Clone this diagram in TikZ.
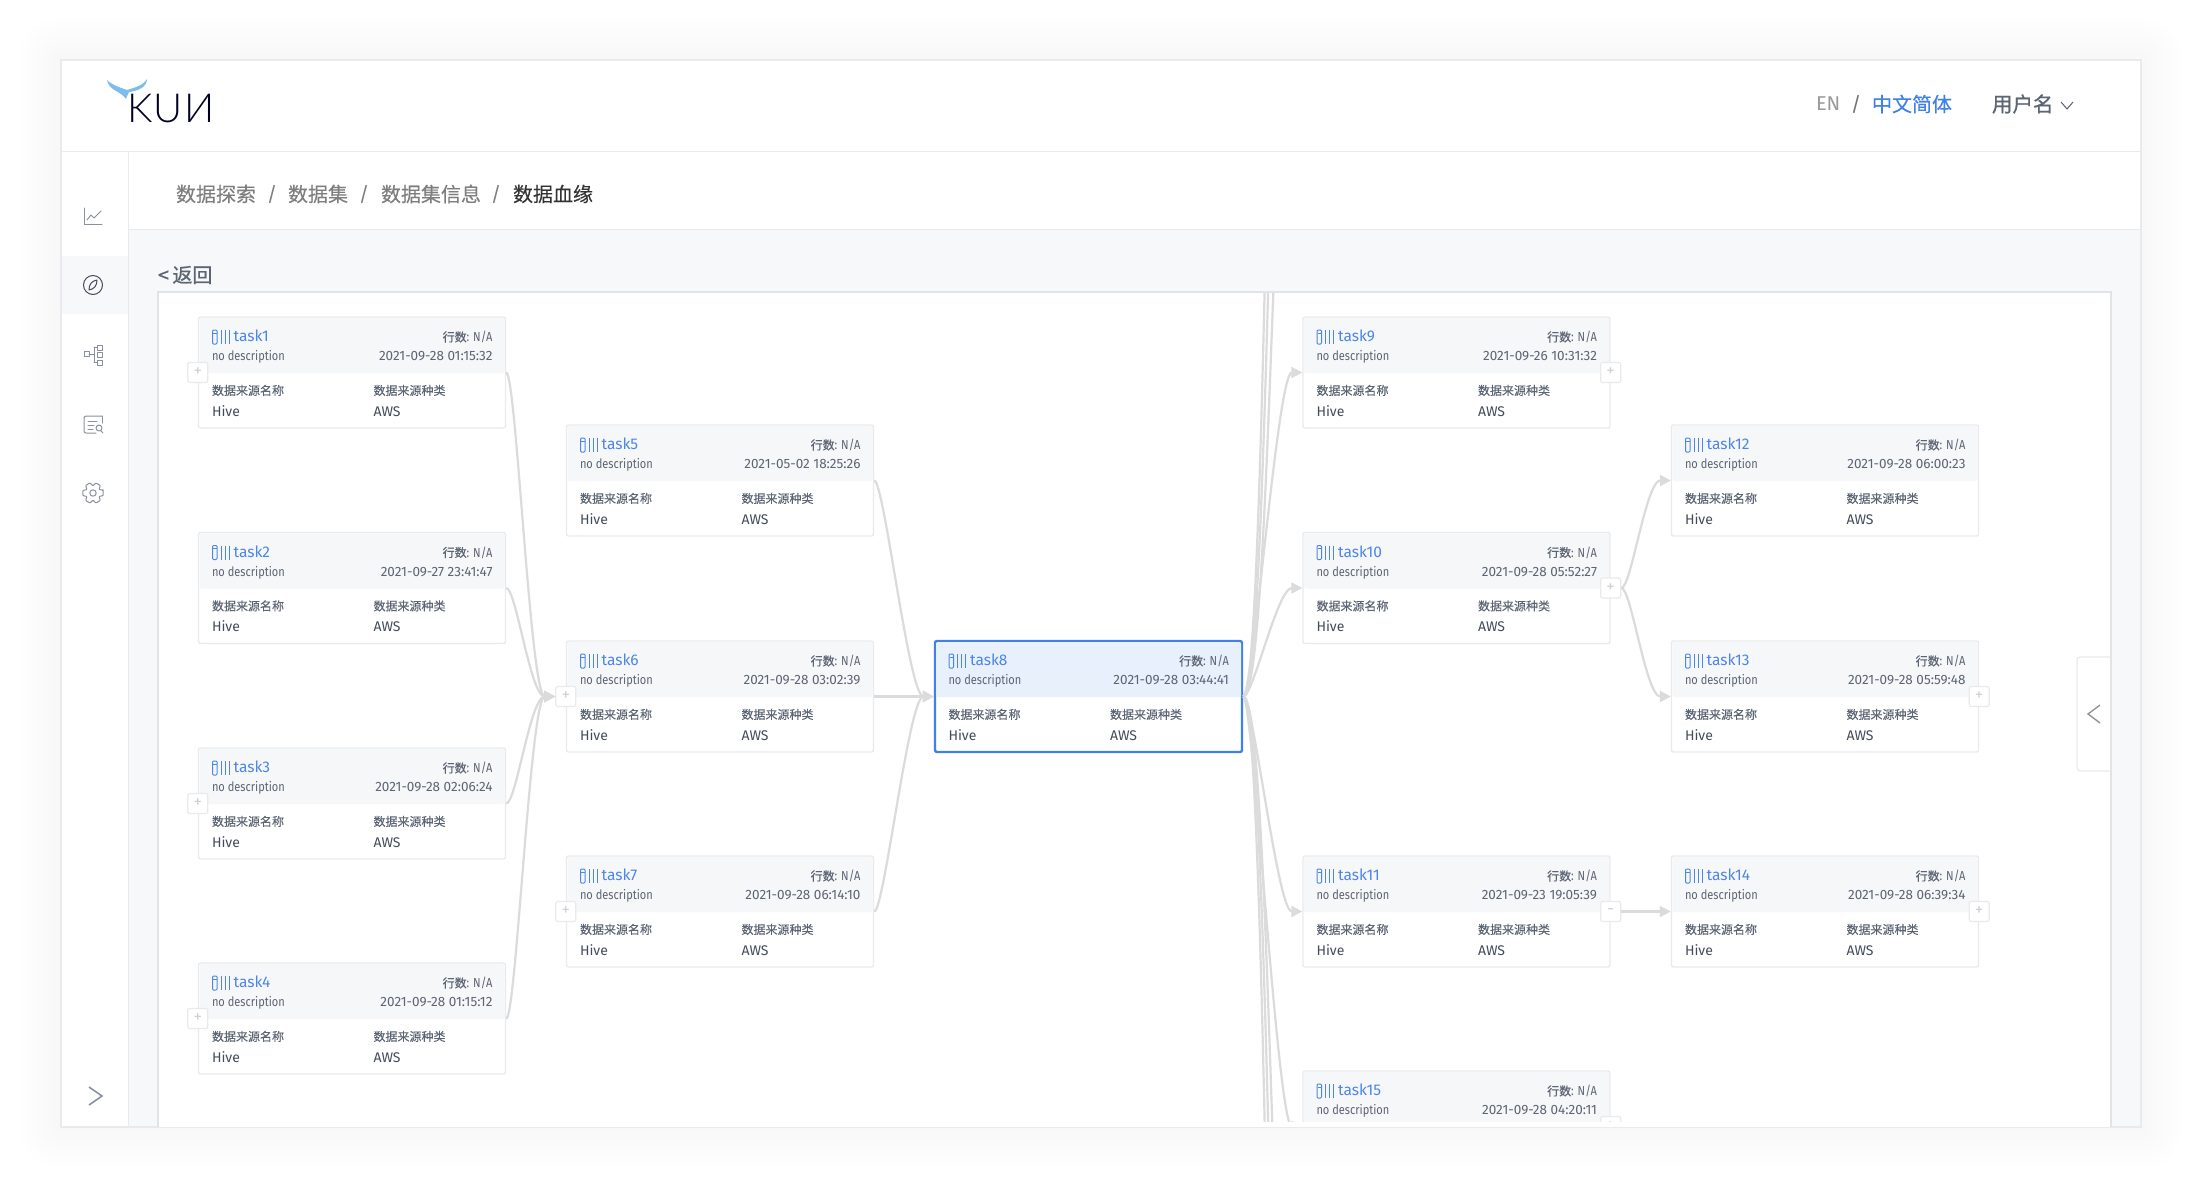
\documentclass[tikz,border=0pt]{standalone}
\usepackage{fontspec}
\setmainfont{Fira Sans}
\newfontfamily\narrowf[FakeStretch=0.85]{Fira Sans}
\newfontfamily\cjk{Noto Sans CJK SC}
\newfontfamily\cjkm[FakeBold=0.25]{Noto Sans CJK SC}
\newfontfamily\cjkb[FakeBold=0.9]{Noto Sans CJK SC}
\newfontfamily\logof[LetterSpace=4]{Lato Light}
\usetikzlibrary{calc,arrows.meta}
\definecolor{pagebg}{HTML}{F7F8FA}
\definecolor{rulec}{HTML}{E8EAED}
\definecolor{panelc}{HTML}{E1E3E7}
\definecolor{headc}{HTML}{F6F7F9}
\definecolor{selhead}{HTML}{E8F0FC}
\definecolor{selc}{HTML}{3F80EA}
\definecolor{titlec}{HTML}{4C86E8}
\definecolor{labelc}{HTML}{5C6573}
\definecolor{valc}{HTML}{444C5A}
\definecolor{edgec}{HTML}{DBDBDB}
\definecolor{iconc}{HTML}{8A919D}
\definecolor{crumbc}{HTML}{7E7E7E}
\definecolor{tailc}{HTML}{7CBDEB}
\tikzset{
  cardbox/.style={draw=rulec,fill=white,line width=1.4pt,rounded corners=2pt,minimum width=307pt,minimum height=111pt,inner sep=0pt},
  selbox/.style={draw=selc,fill=white,line width=2.4pt,rounded corners=2pt,minimum width=307pt,minimum height=111pt,inner sep=0pt},
  txt/.style={inner sep=0pt,outer sep=0pt},
  edge/.style={draw=edgec,line width=2.2pt,-{Triangle[length=11pt,width=11pt]}},
  bare/.style={draw=edgec,line width=2.2pt},
  btn/.style={draw=rulec,fill=white,line width=1.2pt,rounded corners=2pt,minimum size=20pt,inner sep=0pt,text=black!18,font=\fontsize{17}{17}\selectfont},
  ico/.style={draw=iconc,line width=1pt,line cap=round,line join=round},
}
\newcommand{\taskcard}[6]{% style, head colour, id, x, y, date
  \begin{scope}[shift={(#4,#5)}]
    \node[#1] (task#3) at (153.5,55.5) {};
    \fill[#2,rounded corners=1.5pt] (1,1) -- (306,1) -- (306,56) -- (1,56) -- cycle;
    \draw[titlec,line width=1pt,rounded corners=1pt] (14,13) rectangle (18.5,27);
    \draw[titlec,line width=1pt] (18,16) -- (14.5,16);
    \draw[titlec,line width=1pt] (22.5,13) -- (22.5,27) (26.5,13) -- (26.5,27) (30.5,13) -- (30.5,27);
    \node[txt,anchor=base west,text=titlec,font=\fontsize{15.5}{15}\selectfont] (t#3) at (35,24.5) {task#3};
    \node[txt,anchor=base east,text=labelc,font=\narrowf\fontsize{13}{13}\selectfont] (n#3) at (294,24.5) {{\cjkm\fontsize{12}{13}\selectfont 行数}: N/A};
    \node[txt,anchor=base west,text=labelc,font=\narrowf\fontsize{13}{13}\selectfont] (d#3) at (13.5,43.5) {no description};
    \node[txt,anchor=base east,text=labelc,font=\fontsize{13.5}{13}\selectfont] (w#3) at (294,43.5) {#6};
    \node[txt,anchor=base west,text=labelc,font=\cjkm\fontsize{12}{13}\selectfont] (a#3) at (13.5,78) {数据来源名称};
    \node[txt,anchor=base west,text=labelc,font=\cjkm\fontsize{12}{13}\selectfont] (b#3) at (175,78) {数据来源种类};
    \node[txt,anchor=base west,text=valc,font=\fontsize{14}{15}\selectfont] (h#3) at (13.5,99) {Hive};
    \node[txt,anchor=base west,text=valc,font=\fontsize{14}{15}\selectfont] (s#3) at (175,99) {AWS};
  \end{scope}
}
\newcommand{\link}[2]{\draw[edge] (#1) .. controls ($(#1)+(10,0)$) and ($(#2)+(-25,0)$) .. (#2);}
\newcommand{\bareline}[2]{\draw[bare] (#1) .. controls ($(#1)+(30,0)$) and ($(#2)+(-30,0)$) .. (#2);}
\begin{document}
\begin{tikzpicture}[x=1pt,y=-1pt]
\useasboundingbox (0,0) rectangle (2202,1188);
\fill[white] (0,0) rectangle (2202,1188);
% soft shadow
\foreach \s in {6,12,...,42} \fill[black,opacity=0.004,rounded corners=\s pt] ({61-\s},{60-\s}) rectangle ({2141+\s},{1127+\s});
% frame
\fill[white] (61,60) rectangle (2141,1127);
\fill[pagebg] (128,229) rectangle (2141,1127);
\fill[pagebg] (61,256) rectangle (128,314);
\draw[rulec,line width=1pt] (61,151) -- (2141,151) (128,229) -- (2141,229);
\draw[rulec,line width=1pt] (128,151) -- (128,1127);
\draw[rulec,line width=1.2pt] (61,60) rectangle (2141,1127);
% logo
\fill[tailc] (107,80) .. controls (113,86) and (122,88) .. (127,90) .. controls (133,88) and (143,86) .. (147,79) .. controls (147,87) and (138,91) .. (129,92) .. controls (128,94) and (127,96) .. (126,99) .. controls (121,91) and (109,91) .. (107,80) -- cycle;
\node[txt,anchor=base west,text=black!85!blue,font=\logof\fontsize{40}{40}\selectfont] (logo) at (127,123) {KUИ};
% header right
\node[txt,anchor=west,text=black!40,font=\fontsize{20}{20}\selectfont] (en) at (1816,104) {EN};
\node[txt,text=black!55,font=\fontsize{20}{20}\selectfont] (sl) at (1856,104) {/};
\node[txt,anchor=west,text=selc,font=\cjkm\fontsize{20}{20}\selectfont] (zh) at (1872,104) {中文简体};
\node[txt,anchor=west,text=labelc,font=\cjkb\fontsize{20.5}{20}\selectfont] (user) at (1992,104) {用户名};
\draw[labelc,line width=1pt] (2061,102) -- (2067,109) -- (2073,102);
% breadcrumb
\node[txt,anchor=west,text=crumbc,font=\cjkm\fontsize{20}{20}\selectfont] (c1) at (176,194) {数据探索};
\node[txt,text=crumbc,font=\fontsize{20}{20}\selectfont] (s1) at (272,194) {/};
\node[txt,anchor=west,text=crumbc,font=\cjkm\fontsize{20}{20}\selectfont] (c2) at (288,194) {数据集};
\node[txt,text=crumbc,font=\fontsize{20}{20}\selectfont] (s2) at (364,194) {/};
\node[txt,anchor=west,text=crumbc,font=\cjkm\fontsize{20}{20}\selectfont] (c3) at (381,194) {数据集信息};
\node[txt,text=crumbc,font=\fontsize{20}{20}\selectfont] (s3) at (496,194) {/};
\node[txt,anchor=west,text=black!80,font=\cjkm\fontsize{20}{20}\selectfont] (c4) at (513,194) {数据血缘};
\node[txt,anchor=west,text=labelc,font=\cjkb\fontsize{20}{20}\selectfont] (back) at (158,275) {<\,返回};
% sidebar icons
\draw[ico] (84,208) -- (84,224) -- (102,224);
\draw[ico] (87,220) -- (91,215) -- (94,218) -- (101,211);
\draw[ico,draw=valc] (93,285) circle (9.5);
\draw[ico,draw=valc] (89,290) .. controls (89,284) and (92,281) .. (97,280) .. controls (97,286) and (94,289) .. (89,290) -- cycle;
\draw[ico] (84,351) rectangle (89,356);
\draw[ico] (97,345) rectangle (102,350) (97,352) rectangle (102,357) (97,360) rectangle (102,365);
\draw[ico] (89,354) -- (94,354) (94,347) -- (94,362) (94,347) -- (97,347) (94,362) -- (97,362);
\draw[ico,rounded corners=2pt] (102,416) -- (84,416) -- (84,433) -- (96,433);
\draw[ico] (102,416) -- (102,423) (88,421) -- (97,421) (88,425) -- (94,425) (88,429) -- (93,429);
\draw[ico] (99,428) circle (3) (101,431) -- (103,433);
\begin{scope}[shift={(93,493)}]
\draw[ico,rounded corners=0.7pt] (-16:10.5) \foreach \a in {0,60,...,300} { -- ({\a-14}:10.5) -- ({\a+14}:10.5) -- ({\a+30}:7)} -- cycle;
\draw[ico] (0,0) circle (3.2);
\end{scope}
\draw[iconc,line width=1.6pt] (89,1087) -- (102,1096) -- (89,1105);
% panel
\fill[white] (158,292) rectangle (2111,1127);
\draw[panelc,line width=1.6pt] (158,1127) -- (158,292) -- (2111,292) -- (2111,1127);
\begin{scope}
\clip (159,293) rectangle (2110,1121);
\taskcard{cardbox}{headc}{1}{198.5}{317}{2021-09-28 01:15:32}
\taskcard{cardbox}{headc}{2}{198.5}{532.5}{2021-09-27 23:41:47}
\taskcard{cardbox}{headc}{3}{198.5}{748}{2021-09-28 02:06:24}
\taskcard{cardbox}{headc}{4}{198.5}{963}{2021-09-28 01:15:12}
\taskcard{cardbox}{headc}{5}{566.5}{425}{2021-05-02 18:25:26}
\taskcard{cardbox}{headc}{6}{566.5}{641}{2021-09-28 03:02:39}
\taskcard{cardbox}{headc}{7}{566.5}{856}{2021-09-28 06:14:10}
\taskcard{selbox}{selhead}{8}{935}{641}{2021-09-28 03:44:41}
\taskcard{cardbox}{headc}{9}{1303}{317}{2021-09-26 10:31:32}
\taskcard{cardbox}{headc}{10}{1303}{532.5}{2021-09-28 05:52:27}
\taskcard{cardbox}{headc}{11}{1303}{856}{2021-09-23 19:05:39}
\taskcard{cardbox}{headc}{15}{1303}{1071}{2021-09-28 04:20:11}
\taskcard{cardbox}{headc}{12}{1671.5}{425}{2021-09-28 06:00:23}
\taskcard{cardbox}{headc}{13}{1671.5}{641}{2021-09-28 05:59:48}
\taskcard{cardbox}{headc}{14}{1671.5}{856}{2021-09-28 06:39:34}
\node[btn] (p1) at (task1.west) {+};
\node[btn] (p3) at (task3.west) {+};
\node[btn] (p4) at (task4.west) {+};
\node[btn] (p6) at (task6.west) {+};
\node[btn] (p7) at (task7.west) {+};
\node[btn] (p9) at (task9.east) {+};
\node[btn] (p10) at (task10.east) {+};
\node[btn] (p11) at (task11.east) {-};
\node[btn] (p13) at (task13.east) {+};
\node[btn] (p14) at (task14.east) {+};
\node[btn] (p15) at (task15.east) {+};
\link{task1.east}{p6.west}
\link{task2.east}{p6.west}
\link{task3.east}{p6.west}
\link{task4.east}{p6.west}
\link{task5.east}{task8.west}
\link{task6.east}{task8.west}
\link{task7.east}{task8.west}
\link{task8.east}{task9.west}
\link{task8.east}{task10.west}
\link{task8.east}{task11.west}
\link{task8.east}{task15.west}
\link{p10.east}{task12.west}
\link{p10.east}{task13.west}
\link{p11.east}{task14.west}
\coordinate (up1) at (1303,-100);
\coordinate (up2) at (1303,-500);
\coordinate (up3) at (1303,-1000);
\coordinate (dn1) at (1303,1600);
\coordinate (dn2) at (1303,1950);
\coordinate (dn3) at (1303,2470);
\bareline{task8.east}{up1}
\bareline{task8.east}{up2}
\bareline{task8.east}{up3}
\bareline{task8.east}{dn1}
\bareline{task8.east}{dn2}
\bareline{task8.east}{dn3}
\end{scope}
% collapse tab
\draw[rulec,fill=white,line width=1.2pt,rounded corners=3pt] (2110,657) -- (2077,657) -- (2077,771) -- (2110,771);
\draw[black!42,line width=1.4pt] (2100,705) -- (2088,714) -- (2100,723);
\end{tikzpicture}
\end{document}
